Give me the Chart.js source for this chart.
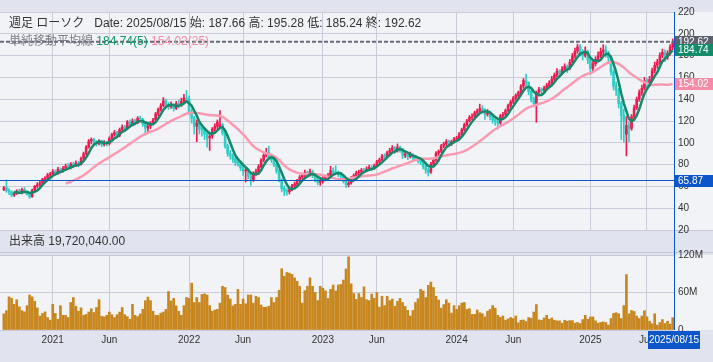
<!DOCTYPE html>
<html>
<head>
<meta charset="utf-8">
<script src="https://cdn.jsdelivr.net/npm/chart.js@4"></script>
<style>
body{margin:0;background:#e1e4ee;width:713px;height:362px;overflow:hidden;position:relative;font-family:'Liberation Sans',Arial,'Noto Sans CJK JP',sans-serif;}
#band{position:absolute;left:0;top:230px;width:713px;height:21px;border-top:1px solid #c6c9d6;border-bottom:1px solid #c6c9d6;background:#e1e4ee;}
#cross{position:absolute;left:674px;top:230px;width:1px;height:23px;background:#0d56c9;z-index:3}
canvas{position:absolute;left:0;z-index:1}
#price{top:0}
#vol{top:245px}
.t{position:absolute;font-size:12px;line-height:14px;color:#333;white-space:pre;z-index:3}
</style>
</head>
<body>
<div id="band"></div>
<div id="cross"></div>
<canvas id="price" width="713" height="240"></canvas>
<canvas id="vol" width="713" height="117"></canvas>

<div class="t" style="left:9px;top:16px">週足 ローソク   Date: 2025/08/15 始: 187.66 高: 195.28 低: 185.24 終: 192.62</div>
<div class="t" style="left:9px;top:34px"><span style="color:#7a7d86">単純移動平均線 </span><span style="color:#14956f">184.74(5) </span><span style="color:#f58ea6">154.02(25)</span></div>
<div class="t" style="left:9px;top:234px">出来高 19,720,040.00</div>

<script>
// weekly candles, first week ending 2020/08/21, last 2025/08/15
var opens = [
57.0,58.8,56.5,55.0,52.2,53.8,55.8,54.0,57.2,55.2,
53.0,50.8,56.8,60.2,61.8,63.2,66.8,67.5,70.8,71.2,
73.8,72.2,75.8,74.2,76.8,78.8,77.6,80.8,79.2,81.8,
80.2,85.8,90.2,96.2,101.8,103.2,100.6,99.2,101.6,98.6,
100.6,99.2,104.2,107.6,109.6,106.8,112.2,114.6,113.2,119.2,
116.6,120.2,118.6,122.6,121.6,117.2,113.6,115.6,118.2,121.2,
126.6,130.6,134.2,138.6,135.2,133.2,134.6,131.6,136.2,134.6,
138.2,141.2,140.6,128.2,122.6,115.2,118.2,113.2,111.6,108.2,
104.6,106.2,112.6,115.2,114.5,116.6,109.2,97.2,90.2,88.2,
85.2,82.2,80.6,77.2,74.2,75.2,69.6,66.2,72.2,73.6,
78.2,84.2,88.6,91.2,86.6,84.6,80.2,74.2,66.2,58.2,
56.2,55.2,57.2,60.6,62.2,65.2,68.6,70.2,72.6,70.6,
73.6,70.2,66.2,63.6,64.6,67.2,68.6,70.2,74.6,73.2,
72.6,71.2,69.2,65.2,61.6,63.2,67.6,70.2,72.6,73.2,
75.2,74.6,76.2,77.6,76.6,79.2,82.6,84.6,88.2,87.6,
91.2,93.2,95.6,92.6,96.2,94.2,88.6,89.6,87.2,89.2,
86.6,85.6,84.2,83.2,78.6,75.2,73.2,80.6,84.2,90.6,
92.2,97.2,99.2,101.6,98.6,101.2,103.6,104.2,108.2,112.2,
116.6,120.2,123.6,124.2,127.6,129.2,131.6,130.2,126.2,127.6,
124.2,121.2,119.6,118.2,124.6,126.2,129.6,134.2,137.6,141.2,
143.6,146.2,152.2,157.2,155.2,147.2,140.2,136.2,146.2,149.2,
148.2,150.2,152.6,155.2,158.6,162.2,165.6,164.2,167.6,170.2,
168.6,174.2,179.6,184.2,188.2,182.6,180.2,183.6,176.2,168.2,
172.6,176.6,180.2,183.6,185.2,182.2,178.2,165.2,152.2,148.2,
136.2,125.2,108.0,116.2,113.2,124.2,132.2,140.2,146.2,150.2,
157.2,154.2,158.2,166.2,171.2,174.2,180.2,183.2,178.6,182.2,187.66
];
var highs = [
60.0,66.0,58.0,56.0,55.0,57.0,57.5,58.5,59.0,56.0,
54.5,57.5,61.0,63.5,65.0,67.5,69.0,72.0,73.0,75.5,
75.0,77.5,77.0,78.5,80.5,81.0,82.0,82.0,83.5,83.0,
87.0,91.5,97.5,103.0,104.5,104.0,102.0,103.0,102.5,102.0,
101.5,105.5,109.0,111.5,110.5,113.5,116.5,116.0,120.5,121.0,
122.0,121.5,124.0,124.5,122.5,118.5,117.5,119.5,122.5,128.0,
132.0,136.0,141.5,140.0,137.0,137.5,136.0,138.0,139.0,141.0,
144.5,148.0,143.0,131.0,124.5,121.0,120.0,116.0,113.0,110.5,
109.0,114.0,117.5,121.0,129.5,118.0,111.0,99.0,93.0,90.0,
87.0,85.0,82.0,79.0,77.0,76.5,71.0,73.5,76.0,80.0,
85.5,90.0,95.0,97.0,88.5,86.0,81.5,75.5,67.0,60.5,
58.0,58.5,62.0,64.0,66.5,70.0,72.0,75.0,74.0,76.0,
75.0,71.0,67.5,66.5,69.0,70.5,72.0,78.5,77.0,79.0,
74.0,72.5,70.5,66.0,64.5,69.0,71.5,74.0,75.0,76.5,
76.5,78.0,79.5,79.0,80.5,84.0,86.0,89.5,90.0,92.5,
95.0,97.5,96.5,99.0,97.0,95.0,92.0,91.0,91.5,90.0,
88.5,87.0,86.0,84.0,80.0,77.0,82.0,85.5,92.0,93.5,
98.5,100.5,103.0,102.5,102.5,105.0,106.0,109.5,113.5,118.0,
121.5,125.0,126.5,129.0,131.0,135.5,134.0,131.5,130.5,129.0,
125.5,123.0,121.0,126.0,128.0,131.0,135.5,139.0,142.5,145.0,
147.5,153.5,159.0,163.0,156.0,148.5,142.0,147.5,151.0,150.5,
152.0,154.5,157.0,161.0,164.0,168.0,167.0,170.0,172.5,171.5,
176.5,182.0,187.0,190.5,190.0,185.5,188.0,185.0,178.0,175.0,
179.0,183.5,187.0,190.0,189.0,184.0,180.0,167.0,156.0,150.0,
138.0,131.0,124.0,119.0,126.0,134.5,142.0,148.5,153.0,160.0,
159.0,161.0,168.5,174.0,176.5,182.5,186.0,185.0,184.5,190.0,195.28
];
var lows = [
56.0,54.5,52.5,50.5,50.8,52.5,53.0,53.2,54.0,52.0,
49.0,50.0,55.5,58.5,60.0,62.0,64.5,66.0,68.5,70.0,
70.5,71.0,72.5,73.0,75.0,75.5,76.0,77.0,78.0,78.0,
79.5,84.5,89.0,95.0,99.0,98.5,97.0,98.0,96.5,97.0,
97.0,98.0,103.0,106.0,105.0,105.5,110.5,111.0,112.0,114.5,
115.5,116.5,117.5,119.5,115.0,107.0,108.5,113.0,117.0,120.0,
125.0,129.0,133.0,133.0,130.5,131.5,129.0,130.5,132.0,133.5,
137.0,137.5,126.0,118.0,108.0,101.0,108.0,106.0,103.0,96.0,
93.0,104.0,110.5,113.0,113.0,107.0,95.0,87.5,85.0,82.0,
79.0,78.5,74.5,70.0,64.0,67.0,61.0,64.5,70.0,72.5,
77.0,82.5,87.0,85.0,82.0,78.0,72.0,64.0,55.0,51.5,
52.0,53.0,56.0,58.5,60.5,63.5,66.5,68.5,68.0,69.5,
68.0,64.0,61.5,61.0,63.0,65.5,67.0,69.0,71.0,71.5,
69.0,67.0,63.0,59.0,59.5,62.0,66.0,68.5,70.5,72.0,
72.5,73.5,75.0,74.5,75.5,78.0,81.0,83.5,85.5,86.5,
89.5,92.0,90.5,91.5,91.5,85.5,86.5,84.5,86.0,84.5,
83.5,81.5,80.0,76.0,72.0,69.5,72.0,79.0,83.0,88.5,
91.0,95.5,97.5,96.5,97.5,100.0,102.0,103.0,107.0,111.0,
115.0,119.0,121.0,123.0,125.5,128.0,127.5,121.5,124.5,121.0,
118.0,116.0,112.5,117.0,122.5,124.5,128.5,132.5,136.0,139.0,
141.0,145.0,150.0,152.0,144.0,137.5,133.0,118.8,144.5,144.0,
146.5,148.5,150.5,153.5,157.0,160.5,160.5,162.5,165.5,164.5,
167.0,172.5,177.5,182.0,179.5,176.0,178.5,172.5,163.0,165.5,
170.5,174.5,178.0,180.5,178.5,174.0,162.0,148.5,143.5,132.0,
103.0,100.5,88.0,101.0,111.5,122.0,130.5,138.0,143.5,148.5,
150.5,152.0,156.5,164.0,168.5,172.0,178.0,174.5,176.5,180.5,185.24
];
var closes = [
58.5,56.0,55.2,52.0,53.5,55.5,54.2,57.0,55.0,53.0,
50.5,56.5,60.0,61.5,63.0,66.5,67.5,70.5,71.0,73.5,
72.0,75.5,74.0,76.5,78.5,77.5,80.5,79.0,81.5,80.0,
85.5,90.0,96.0,101.5,103.0,100.5,99.0,101.5,98.5,100.5,
99.0,104.0,107.5,109.5,106.5,112.0,114.5,113.0,119.0,116.5,
120.0,118.5,122.5,121.5,117.0,113.5,115.5,118.0,121.0,126.5,
130.5,134.0,138.5,135.0,133.0,134.5,131.5,136.0,134.5,138.0,
141.0,140.5,128.0,122.5,115.0,118.0,113.0,111.5,108.0,104.5,
106.0,112.5,115.0,119.0,116.5,109.0,97.0,90.0,88.0,85.0,
82.0,80.5,77.0,74.0,75.0,69.5,66.0,72.0,73.5,78.0,
84.0,88.5,91.0,86.5,84.5,80.0,74.0,66.0,58.0,56.0,
55.0,57.0,60.5,62.0,65.0,68.5,70.0,72.5,70.5,73.5,
70.0,66.0,63.5,64.5,67.0,68.5,70.0,74.5,73.0,72.5,
71.0,69.0,65.0,61.5,63.0,67.5,70.0,72.5,73.0,75.0,
74.5,76.0,77.5,76.5,79.0,82.5,84.5,88.0,87.5,91.0,
93.0,95.5,92.5,96.0,94.0,88.5,89.5,87.0,89.0,86.5,
85.5,84.0,83.0,78.5,75.0,73.0,80.5,84.0,90.5,92.0,
97.0,99.0,101.5,98.5,101.0,103.5,104.0,108.0,112.0,116.5,
120.0,123.5,124.0,127.5,129.0,131.5,130.0,126.0,127.5,124.0,
121.0,119.5,118.0,124.5,126.0,129.5,134.0,137.5,141.0,143.5,
146.0,152.0,157.0,155.0,147.0,140.0,136.0,146.0,149.0,148.0,
150.0,152.5,155.0,158.5,162.0,165.5,164.0,167.5,170.0,168.5,
174.0,179.5,184.0,188.0,182.5,180.0,183.5,176.0,168.0,172.5,
176.5,180.0,183.5,185.0,182.0,178.0,165.0,152.0,148.0,136.0,
125.0,120.0,116.0,113.0,124.0,132.0,140.0,146.0,150.0,157.0,
154.0,158.0,166.0,171.0,174.0,180.0,183.0,178.4,182.0,187.7,192.62
];
// volume in millions
var volumes = [
26,31,53,51,41,48.5,37,31,29,39,
56,53,46,35.5,22.4,26.6,29,20,15.6,41,
26.6,17.2,39,23.5,23.5,20,44,52,38,30,
35.5,23.5,25,28.7,34,28,36,48.5,22,21,
23.5,28.7,24.5,20,24.5,28.7,36,24.5,21.4,17.2,
41,23.5,21.4,25.6,33,47,52.7,47,30,23.5,
23.5,27,28.7,33,61.6,46.4,50.6,38.6,30,23.5,
39,52,50.6,75,44,52,44,57,58,56,
39,30,32,33,43,70,68,56,49.6,38.6,
41,65,41,49.6,42,56,56,43,54,52,
40,36.5,36.5,38,52,44,52,63.6,98,86,
92,91,89,83.5,78,70,43,63,70,83.5,
70,60,47,70,67,62.6,50.6,65,72,62.6,
72,73,80,97.6,117,74,58.4,49,58.4,52,
69,48.5,47,57.4,50.6,60,36.5,54,39,54,
47,49.6,38,46,50.6,44,37.6,31.3,22.4,31.3,
44,50,65,62.6,52,71.5,76.7,68,54,48,
35,40.7,48.5,43,27,39,33,39,43,44,
33,34,25,25,32,27.6,26,21,30,33,
39,35,23.5,20,22.4,15.6,17.7,20,18.3,22.4,
11.5,15.6,16,13.6,20,18.8,28.7,40.7,16.2,15.6,
19.3,23.5,17.2,19.3,15.6,14.6,14.6,11,15.6,14,
15,15,11,12,10.4,16.7,23.5,17.2,21,21,
14.6,11,12,13,12,7.8,18.3,26.6,27.6,26,
18.3,39,88.7,26,31.3,29.7,22.4,18.3,22.4,30.8,
21,14,10,26,7.8,12,16.7,10.4,14,9.4,19.72
];
var lastClose = 192.62;
var crossPrice = 65.87;
var ma5Label = "184.74";
var ma25Label = "154.02";
var dateLabel = "2025/08/15";

var upColor = "#ee1a4f", downColor = "#2bcfc6";
var gridColor = "#c9cbd8", plotBg = "#f2f3f6", blue = "#0d56c9";

Chart.defaults.font.family = "'Liberation Sans', Arial, sans-serif";
Chart.defaults.font.size = 10;
Chart.defaults.color = "#333";

// ticks at the first week of January and June
var WEEK = 7 * 864e5, first = Date.UTC(2020, 7, 21);
var tickIdx = [], tickLab = {};
for (var i = 0; i < closes.length; i++) {
  var d = new Date(first + i * WEEK), p = new Date(first + (i - 1) * WEEK);
  var m = d.getUTCMonth();
  if (m !== p.getUTCMonth() && (m === 0 || m === 5)) {
    tickIdx.push(i);
    tickLab[i] = m === 0 ? String(d.getUTCFullYear()) : "Jun";
  }
}

function sma(n) {
  var out = [];
  for (var i = n - 1; i < closes.length; i++) {
    var s = 0;
    for (var k = i - n + 1; k <= i; k++) s += closes[k];
    out.push({x: i, y: s / n});
  }
  return out;
}

var wicks = [], bodies = [], colors = [], volPts = [];
for (var i = 0; i < closes.length; i++) {
  wicks.push({x: i, y: [lows[i], highs[i]]});
  bodies.push({x: i, y: [opens[i], closes[i]]});
  colors.push(closes[i] >= opens[i] ? upColor : downColor);
  volPts.push({x: i, y: volumes[i]});
}

var xScale = function (showLabels) {
  return {
    type: "linear", min: -1.5, max: 260.5, offset: false,
    afterBuildTicks: function (s) { s.ticks = tickIdx.map(function (v) { return {value: v}; }); },
    ticks: {display: showLabels, autoSkip: false, maxRotation: 0, padding: 4,
      callback: function (v) { return tickLab[v] || ""; }},
    grid: {color: gridColor, drawTicks: false, offset: false},
    border: {display: false},
    afterFit: function (s) { s.height = showLabels ? 32 : 0; }
  };
};

var bgPlugin = {
  id: "bg",
  beforeDraw: function (c) {
    var a = c.chartArea, ctx = c.ctx;
    ctx.save();
    ctx.fillStyle = plotBg;
    if (c.canvas.id === "price") ctx.fillRect(0, a.top, c.width, 230 - a.top);
    else ctx.fillRect(0, a.top, c.width, a.bottom - a.top);
    ctx.restore();
  }
};

function tag(ctx, y, bg, text) {
  ctx.fillStyle = bg;
  ctx.fillRect(675, Math.round(y) - 6, 38, 12);
  ctx.fillStyle = "#fff";
  ctx.textBaseline = "middle";
  ctx.textAlign = "left";
  ctx.font = "10px 'Liberation Sans', Arial, sans-serif";
  ctx.fillText(text, 678, Math.round(y) + 0.5);
}

var priceOverlay = {
  id: "overlay",
  afterDraw: function (c) {
    var ctx = c.ctx, a = c.chartArea, y = c.scales.y;
    ctx.save();
    var yc = y.getPixelForValue(lastClose);
    ctx.strokeStyle = "#666a75"; ctx.lineWidth = 2; ctx.setLineDash([4, 2]);
    ctx.beginPath(); ctx.moveTo(0, yc); ctx.lineTo(a.right, yc); ctx.stroke();
    ctx.setLineDash([]);
    ctx.strokeStyle = blue; ctx.lineWidth = 1;
    var yx = Math.round(y.getPixelForValue(crossPrice)) + 0.5;
    ctx.beginPath(); ctx.moveTo(0, yx); ctx.lineTo(a.right, yx); ctx.stroke();
    ctx.beginPath(); ctx.moveTo(a.right + 0.5, a.top); ctx.lineTo(a.right + 0.5, c.height); ctx.stroke();
    tag(ctx, yc, "#5d616d", lastClose.toFixed(2));
    tag(ctx, y.getPixelForValue(parseFloat(ma5Label)), "#138a6a", ma5Label);
    tag(ctx, y.getPixelForValue(parseFloat(ma25Label)), "#f58ba6", ma25Label);
    tag(ctx, yx, blue, crossPrice.toFixed(2));
    ctx.restore();
  }
};

var volOverlay = {
  id: "overlay",
  afterDraw: function (c) {
    var ctx = c.ctx, a = c.chartArea;
    ctx.save();
    ctx.strokeStyle = blue; ctx.lineWidth = 1;
    ctx.beginPath(); ctx.moveTo(a.right + 0.5, 0); ctx.lineTo(a.right + 0.5, a.bottom); ctx.stroke();
    ctx.fillStyle = blue;
    ctx.fillRect(a.right - 26, a.bottom + 1, 52, 18);
    ctx.fillStyle = "#fff"; ctx.textAlign = "center"; ctx.textBaseline = "middle";
    ctx.font = "10px 'Liberation Sans', Arial, sans-serif";
    ctx.fillText(dateLabel, a.right, a.bottom + 10.5);
    ctx.restore();
  }
};

new Chart(document.getElementById("price"), {
  type: "bar",
  data: {
    datasets: [
      {type: "line", data: sma(5), borderColor: "#16876a", borderWidth: 2.5, pointRadius: 0, tension: 0, order: 0},
      {type: "line", data: sma(25), borderColor: "#f99ab2", borderWidth: 2.5, pointRadius: 0, tension: 0, order: 1},
      {data: bodies, backgroundColor: colors, barThickness: 2, grouped: false, order: 2},
      {data: wicks, backgroundColor: colors, barThickness: 1, grouped: false, order: 3}
    ]
  },
  options: {
    responsive: false, animation: false,
    layout: {padding: {top: 12, bottom: 9, left: 0, right: 0}},
    plugins: {legend: {display: false}, tooltip: {enabled: false}},
    scales: {
      x: xScale(false),
      y: {
        position: "right", min: 20, max: 220,
        ticks: {stepSize: 20, padding: 4},
        grid: {color: gridColor, drawTicks: false},
        border: {display: false},
        afterFit: function (s) { s.width = 39; }
      }
    }
  },
  plugins: [bgPlugin, priceOverlay]
});

new Chart(document.getElementById("vol"), {
  type: "bar",
  data: {
    datasets: [{data: volPts, backgroundColor: "#c8861f", barThickness: 2, grouped: false}]
  },
  options: {
    responsive: false, animation: false,
    layout: {padding: {top: 8, bottom: 0, left: 0, right: 0}},
    plugins: {legend: {display: false}, tooltip: {enabled: false}},
    scales: {
      x: xScale(true),
      y: {
        position: "right", min: 0, max: 120,
        ticks: {stepSize: 60, padding: 4, callback: function (v) { return v === 0 ? "0" : v + "M"; }},
        grid: {color: gridColor, drawTicks: false},
        border: {display: false},
        afterFit: function (s) { s.width = 39; }
      }
    }
  },
  plugins: [bgPlugin, volOverlay]
});
</script>
</body>
</html>
